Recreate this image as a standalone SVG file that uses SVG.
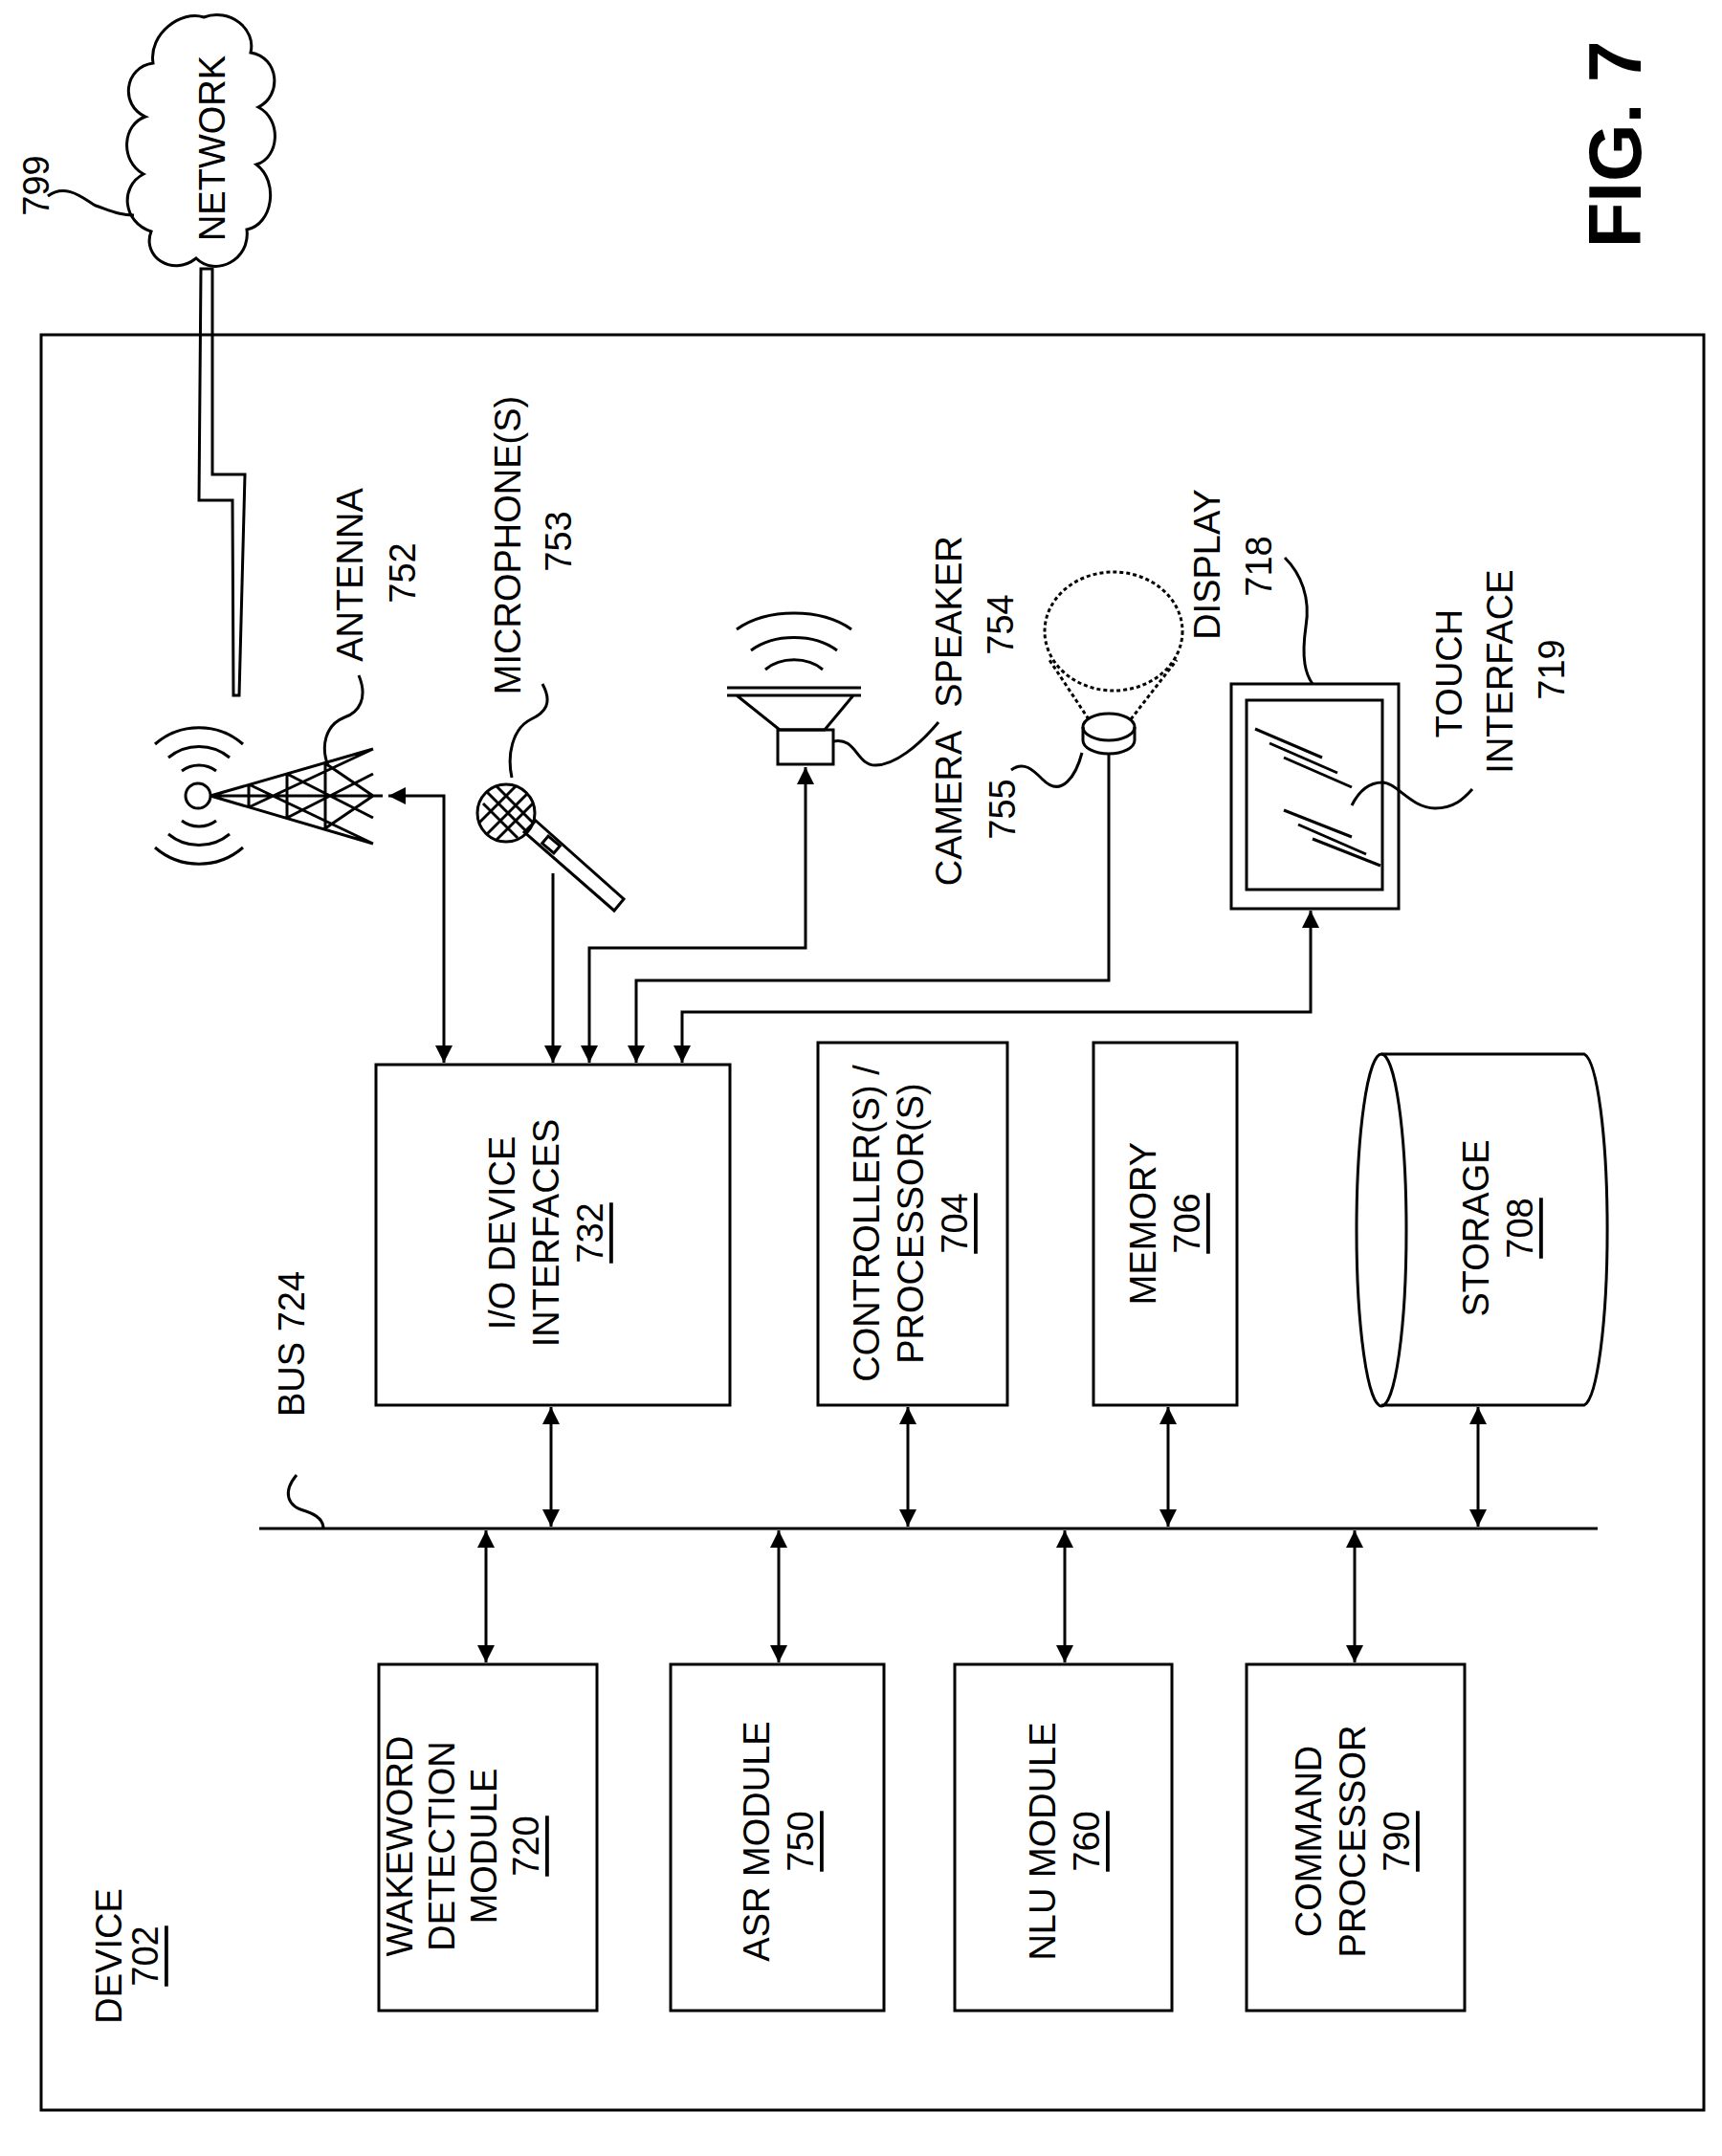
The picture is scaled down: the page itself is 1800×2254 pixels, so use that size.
<svg xmlns="http://www.w3.org/2000/svg" width="1800" height="2254" viewBox="0 0 1800 2254">
<style>
.s{fill:none;stroke:#000;stroke-width:3}
.t{font-family:"Liberation Sans",Arial,sans-serif;font-size:38px;fill:#000;text-anchor:middle;dominant-baseline:central}
.c{stroke:#000;stroke-width:3;fill:none}
</style>
<defs>
<marker id="a" viewBox="0 0 10 10" refX="10" refY="5" markerWidth="18" markerHeight="18" markerUnits="userSpaceOnUse" orient="auto-start-reverse"><path d="M0,0 L10,5 L0,10 z" fill="#000"/></marker>
</defs>
<g id="device"><rect class="s" x="43" y="350" width="1738" height="1856"/>
<text class="t" transform="translate(114,2045) rotate(-90)">DEVICE</text>
<text class="t" transform="translate(152,2045) rotate(-90)" text-decoration="underline">702</text></g>
<g id="network">
<path class="s" d="M213,18 C240,8 268,30 262,55 C292,60 295,100 270,112 C295,125 292,165 268,172 C292,190 285,235 258,240 C262,272 225,290 205,270 C180,290 148,268 158,242 C128,232 125,195 150,182 C125,168 128,130 152,122 C125,110 130,70 160,66 C155,35 190,10 213,18 Z"/>
<text class="t" transform="translate(222,155) rotate(-90)">NETWORK</text>
<text class="t" transform="translate(38,194) rotate(-90)">799</text>
<path class="s" d="M50,205 C70,190 90,210 100,215 C115,220 125,225 140,225"/>
<path class="c" stroke-width="2.5" d="M210,281 L222,281 L222,496 L256,496 L250,727 L244,727 L243,523 L208,523 Z"/>
</g>
<g id="fig"><text transform="translate(1688,151) rotate(-90)" style="font-family:'Liberation Sans',Arial,sans-serif;font-size:78px;font-weight:bold;text-anchor:middle;dominant-baseline:central">FIG. 7</text></g>
<g id="io"><rect class="s" x="393" y="1113" width="370" height="356"/>
<text class="t" transform="translate(525,1289) rotate(-90)">I/O DEVICE</text>
<text class="t" transform="translate(571,1289) rotate(-90)">INTERFACES</text>
<text class="t" transform="translate(617,1289) rotate(-90)" text-decoration="underline">732</text></g>
<g id="ctrl"><rect class="s" x="855" y="1090" width="198" height="379"/>
<text class="t" transform="translate(906,1279) rotate(-90)">CONTROLLER(S) /</text>
<text class="t" transform="translate(952,1279) rotate(-90)">PROCESSOR(S)</text>
<text class="t" transform="translate(998,1279) rotate(-90)" text-decoration="underline">704</text></g>
<g id="mem"><rect class="s" x="1143" y="1090" width="150" height="379"/>
<text class="t" transform="translate(1195,1279) rotate(-90)">MEMORY</text>
<text class="t" transform="translate(1241,1279) rotate(-90)" text-decoration="underline">706</text></g>
<g id="storage">
<path class="s" d="M1444,1102 L1656,1102 A26,184 0 0 1 1656,1469 L1444,1469"/>
<ellipse class="s" cx="1444" cy="1286" rx="26" ry="184"/>
<text class="t" transform="translate(1543,1284) rotate(-90)">STORAGE</text>
<text class="t" transform="translate(1589,1284) rotate(-90)" text-decoration="underline">708</text></g>
<g id="wake"><rect class="s" x="396" y="1740" width="228" height="362"/>
<text class="t" transform="translate(418,1930) rotate(-90)">WAKEWORD</text>
<text class="t" transform="translate(462,1930) rotate(-90)">DETECTION</text>
<text class="t" transform="translate(506,1930) rotate(-90)">MODULE</text>
<text class="t" transform="translate(550,1930) rotate(-90)" text-decoration="underline">720</text></g>
<g id="asr"><rect class="s" x="701" y="1740" width="223" height="362"/>
<text class="t" transform="translate(791,1925) rotate(-90)">ASR MODULE</text>
<text class="t" transform="translate(837,1925) rotate(-90)" text-decoration="underline">750</text></g>
<g id="nlu"><rect class="s" x="998" y="1740" width="227" height="362"/>
<text class="t" transform="translate(1090,1925) rotate(-90)">NLU MODULE</text>
<text class="t" transform="translate(1136,1925) rotate(-90)" text-decoration="underline">760</text></g>
<g id="cmd"><rect class="s" x="1303" y="1740" width="228" height="362"/>
<text class="t" transform="translate(1368,1925) rotate(-90)">COMMAND</text>
<text class="t" transform="translate(1414,1925) rotate(-90)">PROCESSOR</text>
<text class="t" transform="translate(1460,1925) rotate(-90)" text-decoration="underline">790</text></g>
<g id="bus"><path class="s" d="M271,1598 H1670"/>
<text class="t" transform="translate(305,1405) rotate(-90)">BUS 724</text>
<path class="s" d="M310,1542 C295,1560 300,1575 320,1580 C335,1585 338,1592 338,1598"/></g>
<g id="antenna">
<circle class="s" cx="207" cy="832" r="13"/>
<path class="c" d="M190,806 A30,30 0 0 1 226,806 M176,792 A50,50 0 0 1 240,792 M162,778 A70,70 0 0 1 254,778"/>
<path class="c" d="M190,858 A30,30 0 0 0 226,858 M176,872 A50,50 0 0 0 240,872 M162,886 A70,70 0 0 0 254,886"/>
<path class="c" d="M220,832 L390,783 M220,832 L390,882 M220,832 H400 M260,820 L390,882 M260,844 L390,783 M300,809 L390,855 M300,855 L390,809 M340,798 L390,832 M340,866 L390,832 M300,809 V855 M340,798 V866 M260,820 V844"/>
<text class="t" transform="translate(366,601) rotate(-90)">ANTENNA</text>
<text class="t" transform="translate(421,599) rotate(-90)">752</text>
<path class="s" d="M375,706 C385,730 375,745 360,750 C340,758 335,780 343,801"/>
</g>
<g id="mic">
<circle class="s" cx="529" cy="850" r="30"/>
<path class="c" d="M509,828 L551,870 M519,822 L557,860 M505,840 L541,876 M509,872 L551,830 M501,860 L539,822 M519,878 L557,840"/>
<path class="s" d="M548,870 L560,858 L652,940 L642,952 Z"/>
<rect class="s" x="568" y="878" width="16" height="10" transform="rotate(40 576 883)"/>
<text class="t" transform="translate(531,570) rotate(-90)">MICROPHONE(S)</text>
<text class="t" transform="translate(584,566) rotate(-90)">753</text>
<path class="s" d="M567,715 C578,735 570,745 555,752 C535,762 530,790 535,813"/>
</g>
<g id="speaker">
<path class="s" d="M760,727 H900 M770,727 L815,763 H862 L892,727 M760,719 H900"/>
<rect class="s" x="813" y="763" width="58" height="36"/>
<path class="c" d="M800,700 A40,30 0 0 1 860,700 M785,680 A60,40 0 0 1 875,680 M770,658 A80,50 0 0 1 890,658"/>
<text class="t" transform="translate(992,650) rotate(-90)">SPEAKER</text>
<text class="t" transform="translate(1046,653) rotate(-90)">754</text>
<path class="s" d="M871,775 C895,770 895,800 915,800 C935,800 960,780 981,755"/>
</g>
<g id="camera">
<ellipse class="s" cx="1164" cy="660" rx="72" ry="62" stroke-dasharray="4,3"/>
<path class="s" stroke-dasharray="4,3" d="M1138,752 L1097,690 M1182,752 L1230,690"/>
<ellipse class="s" cx="1159" cy="760" rx="27" ry="14"/>
<path class="s" d="M1132,760 V774 A27,14 0 0 0 1186,774 V760"/>
<text class="t" transform="translate(992,845) rotate(-90)">CAMERA</text>
<text class="t" transform="translate(1048,846) rotate(-90)">755</text>
<path class="s" d="M1057,805 C1070,795 1080,805 1090,815 C1110,835 1125,810 1131,787"/>
</g>
<g id="display">
<rect class="s" x="1287" y="715" width="175" height="235"/>
<rect class="s" x="1303" y="732" width="142" height="198"/>
<path class="c" stroke-width="2.5" d="M1312,762 L1382,792 M1327,777 L1398,808 M1342,792 L1413,823 M1342,847 L1413,875 M1357,862 L1428,893 M1372,877 L1443,905"/>
<text class="t" transform="translate(1262,590) rotate(-90)">DISPLAY</text>
<text class="t" transform="translate(1316,592) rotate(-90)">718</text>
<path class="s" d="M1343,583 C1360,600 1370,625 1365,655 C1360,690 1365,705 1372,715"/>
<text class="t" transform="translate(1515,704) rotate(-90)">TOUCH</text>
<text class="t" transform="translate(1568,702) rotate(-90)">INTERFACE</text>
<text class="t" transform="translate(1622,700) rotate(-90)">719</text>
<path class="s" d="M1413,842 C1420,828 1430,818 1445,818 C1460,818 1475,845 1500,845 C1520,845 1530,835 1539,825"/>
</g>
<g id="connectors" class="s">
<path class="s" marker-start="url(#a)" marker-end="url(#a)" d="M406,832 H464 V1111"/>
<path class="s" marker-end="url(#a)" d="M578,913 V1111"/>
<path class="s" marker-start="url(#a)" marker-end="url(#a)" d="M842,802 V991 H616 V1111"/>
<path class="s" marker-end="url(#a)" d="M1159,789 V1025 H665 V1111"/>
<path class="s" marker-start="url(#a)" marker-end="url(#a)" d="M1370,952 V1058 H713 V1111"/>
<path class="s" marker-start="url(#a)" marker-end="url(#a)" d="M576,1471 V1596"/>
<path class="s" marker-start="url(#a)" marker-end="url(#a)" d="M949,1471 V1596"/>
<path class="s" marker-start="url(#a)" marker-end="url(#a)" d="M1221,1471 V1596"/>
<path class="s" marker-start="url(#a)" marker-end="url(#a)" d="M1545,1471 V1596"/>
<path class="s" marker-start="url(#a)" marker-end="url(#a)" d="M508,1600 V1738"/>
<path class="s" marker-start="url(#a)" marker-end="url(#a)" d="M814,1600 V1738"/>
<path class="s" marker-start="url(#a)" marker-end="url(#a)" d="M1113,1600 V1738"/>
<path class="s" marker-start="url(#a)" marker-end="url(#a)" d="M1416,1600 V1738"/>
</g>
</svg>
